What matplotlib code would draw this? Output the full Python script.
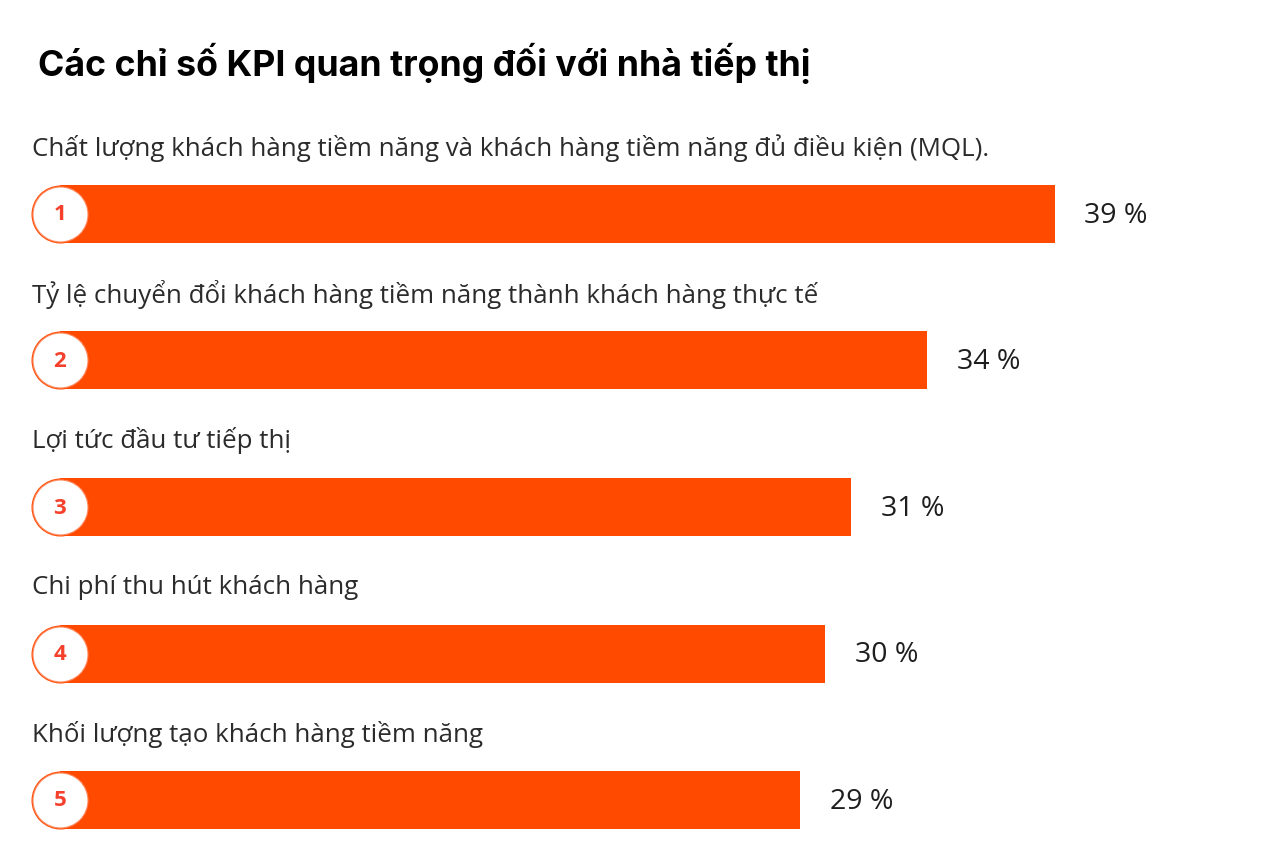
import matplotlib.pyplot as plt
import numpy as np

title = "Các chỉ số KPI quan trọng đối với nhà tiếp thị"
labels = [
    "Chất lượng khách hàng tiềm năng và khách hàng tiềm năng đủ điều kiện (MQL).",
    "Tỷ lệ chuyển đổi khách hàng tiềm năng thành khách hàng thực tế",
    "Lợi tức đầu tư tiếp thị",
    "Chi phí thu hút khách hàng",
    "Khối lượng tạo khách hàng tiềm năng",
]
values = [39, 34, 31, 30, 29]
ranks = ["1", "2", "3", "4", "5"]

orange = "#ff4a00"
W, H = 1280, 865
px_per_unit = 25.5
x0_px = 60
row0_px, row_px = 214, 146.5

fig = plt.figure(figsize=(W / 100, H / 100), dpi=100)
ax = fig.add_axes([0, 0, 1, 1])
ax.set_xlim(-x0_px / px_per_unit, (W - x0_px) / px_per_unit)
ax.set_ylim((H - row0_px) / row_px, -row0_px / row_px)
ax.axis("off")

y = np.arange(len(values))
bar_h = 58 / row_px
ax.barh(y, values, height=bar_h, color=orange, zorder=1)

# rounded left cap + white number badge
ax.scatter(np.zeros(len(y)), y, s=(58 * 0.72) ** 2, color=orange, zorder=2, linewidths=0)
ax.scatter(np.zeros(len(y)), y, s=(55 * 0.72) ** 2, color="white",
           edgecolors="#ff8a60", linewidths=0.8, zorder=3)

for i, (lab, v, r) in enumerate(zip(labels, values, ranks)):
    ax.text(0, i + 1 / row_px, r, ha="center", va="center", color="#f5402c",
            fontsize=16, fontweight="bold", family="Open Sans", zorder=4)
    ax.text(-28 / px_per_unit, i - 66 / row_px, lab, ha="left", va="center",
            color="#2b2b2b", fontsize=18.6, family="Open Sans")
    ax.text(v + 30 / px_per_unit, i + 2 / row_px, f"{v} %", ha="left", va="center",
            color="#1e1e1e", fontsize=20.5, family="Open Sans")

fig.text(38 / W, 1 - 63 / H, title, ha="left", va="center",
         fontsize=25.7, fontweight="bold", family="Inter", color="black")

fig.savefig("out.png", dpi=100, facecolor="white")
